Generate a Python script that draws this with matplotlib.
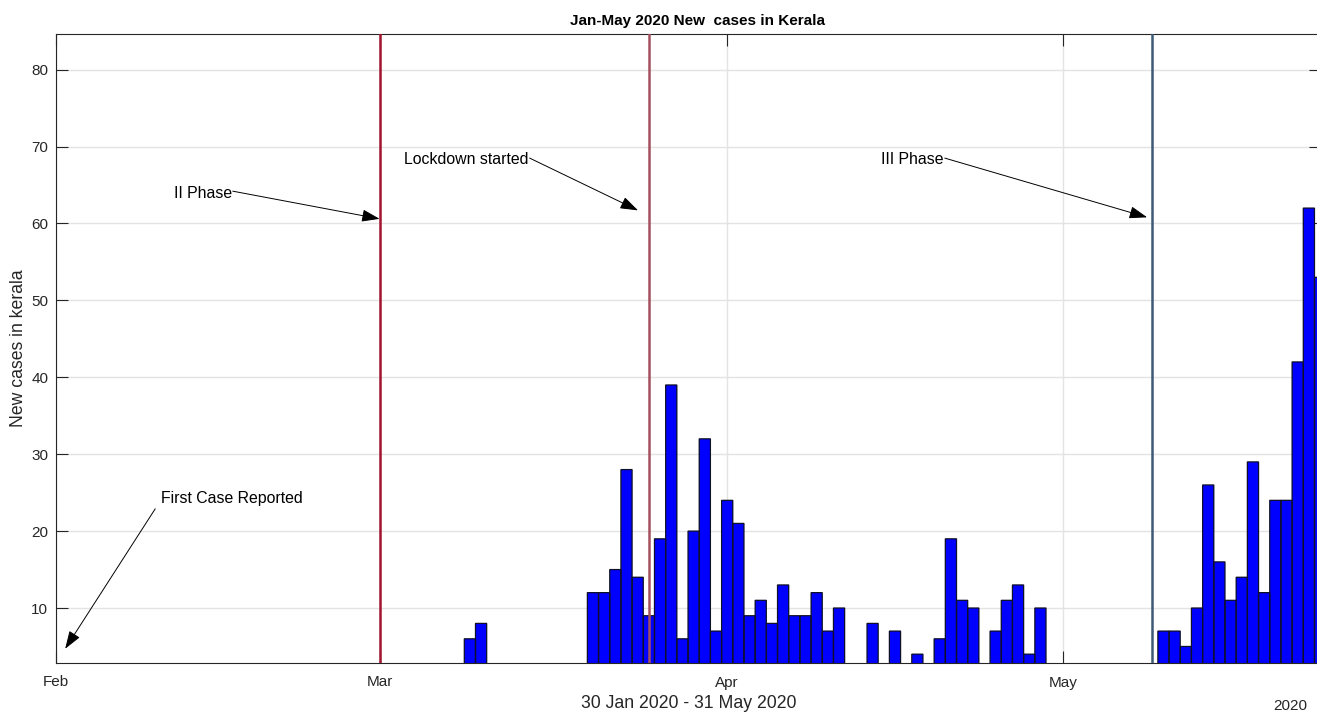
import matplotlib
matplotlib.use("Agg")
import matplotlib.pyplot as plt
import matplotlib.dates as mdates
import pandas as pd

# daily new COVID-19 cases in Kerala (days with visible counts)
case_dates = [
    "2020-03-09", "2020-03-10",
    "2020-03-20", "2020-03-21", "2020-03-22", "2020-03-23", "2020-03-24",
    "2020-03-25", "2020-03-26", "2020-03-27", "2020-03-28", "2020-03-29",
    "2020-03-30", "2020-03-31", "2020-04-01", "2020-04-02", "2020-04-03",
    "2020-04-04", "2020-04-05", "2020-04-06", "2020-04-07", "2020-04-08",
    "2020-04-09", "2020-04-10", "2020-04-11", "2020-04-14", "2020-04-16",
    "2020-04-18", "2020-04-20", "2020-04-21", "2020-04-22", "2020-04-23",
    "2020-04-25", "2020-04-26", "2020-04-27", "2020-04-28", "2020-04-29",
    "2020-05-10", "2020-05-11", "2020-05-12", "2020-05-13", "2020-05-14",
    "2020-05-15", "2020-05-16", "2020-05-17", "2020-05-18", "2020-05-19",
    "2020-05-20", "2020-05-21", "2020-05-22", "2020-05-23", "2020-05-24",
]
new_cases = [
    6, 8,
    12, 12, 15, 28, 14,
    9, 19, 39, 6, 20,
    32, 7, 24, 21, 9,
    11, 8, 13, 9, 9,
    12, 7, 10, 8, 7,
    4, 6, 19, 11, 10,
    7, 11, 13, 4, 10,
    7, 7, 5, 10, 26,
    16, 11, 14, 29, 12,
    24, 24, 42, 62, 53,
]

# phase markers
event_dates = ["2020-03-01", "2020-03-25", "2020-05-09"]
event_colors = ["#a2142f", "#a5505e", "#3d5a78"]

dates = pd.to_datetime(case_dates)
t0 = pd.Timestamp("2020-02-01")
t1 = pd.Timestamp("2020-05-24 02:00")

plt.rcParams["font.family"] = ["Liberation Sans", "DejaVu Sans"]

fig = plt.figure(figsize=(13.17, 7.12), dpi=100)
ax = fig.add_axes([56 / 1317, 49 / 712, 1265 / 1317, 629.5 / 712])

# faces first, outlines on top so shared edges stay visible
ax.bar(dates, new_cases, width=1.0, color="#0000ff", edgecolor="none",
       zorder=2)
outlines = ax.bar(dates, new_cases, width=1.0, fill=False,
                  edgecolor="#101028", linewidth=0.9, zorder=2.5)
for r in outlines:
    r.set_snap(False)

for d, c in zip(event_dates, event_colors):
    ax.axvline(pd.Timestamp(d), color=c, linewidth=1.8, zorder=3)

ax.set_xlim(t0, t1)
ax.set_ylim(2.85, 84.7)
ax.set_yticks([10, 20, 30, 40, 50, 60, 70, 80])
ax.xaxis.set_major_locator(mdates.MonthLocator())
ax.xaxis.set_major_formatter(mdates.DateFormatter("%b"))

ax.grid(True, color="#e3e3e3", linewidth=1.0, zorder=0)
ax.set_axisbelow(True)
ax.tick_params(direction="in", length=8.6, width=0.8, colors="#262626",
               labelsize=11, top=True, right=True)
ax.tick_params(axis="x", pad=9)
ax.tick_params(axis="y", pad=5.5)
for s in ax.spines.values():
    s.set_color("#262626")
    s.set_linewidth(0.8)

ax.set_title("Jan-May 2020 New  cases in Kerala", fontsize=11,
             fontweight="bold", pad=6, x=0.507)
ax.set_xlabel("30 Jan 2020 - 31 May 2020", fontsize=12.7, color="#262626",
              labelpad=4)
ax.set_ylabel("New cases in kerala", fontsize=12.7, color="#262626",
              labelpad=3)
ax.text(0.989, -0.068, "2020", transform=ax.transAxes, ha="right",
        va="center", fontsize=11, color="#262626")


def day(s, frac=0.0):
    return mdates.date2num(pd.Timestamp(s)) + frac


arrow = dict(arrowstyle="-|>,head_length=1.1,head_width=0.38",
             color="black", linewidth=0.7, shrinkA=0, shrinkB=0)
note_font = dict(fontsize=11.4, color="black")

# First case
ax.annotate("", xy=(day("2020-02-01", 0.82), 4.7),
            xytext=(day("2020-02-01", 8.87), 22.9), arrowprops=arrow)
ax.text(day("2020-02-01", 9.4), 24.2, "First Case Reported",
        ha="left", va="center", **note_font)

# II Phase
ax.annotate("", xy=(day("2020-03-01", -0.07), 60.6),
            xytext=(day("2020-02-01", 15.8), 64.2), arrowprops=arrow)
ax.text(day("2020-02-01", 15.7), 63.9, "II Phase",
        ha="right", va="center", **note_font)

# Lockdown
ax.annotate("", xy=(day("2020-03-24", 0.03), 61.7),
            xytext=(day("2020-03-14", 0.34), 68.5), arrowprops=arrow)
ax.text(day("2020-03-14", 0.25), 68.3, "Lockdown started",
        ha="right", va="center", **note_font)

# III Phase
ax.annotate("", xy=(day("2020-05-08", 0.54), 60.8),
            xytext=(day("2020-04-20", 0.45), 68.5), arrowprops=arrow)
ax.text(day("2020-04-20", 0.35), 68.3, "III Phase",
        ha="right", va="center", **note_font)

fig.savefig("out.png", dpi=100)
